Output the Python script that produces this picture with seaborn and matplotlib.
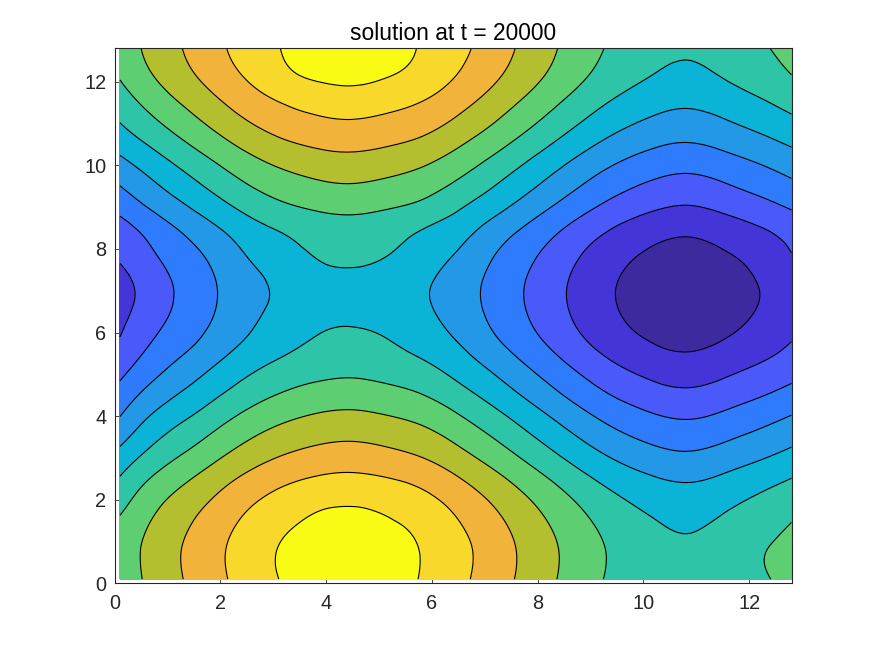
import numpy as np
import matplotlib
matplotlib.use("Agg")
import matplotlib.pyplot as plt
import matplotlib.tri as mtri
import seaborn as sns

x_grid = [0.1,0.735,1.37,2.005,2.64,3.275,3.91,4.545,5.18,5.815,6.45,7.085,7.72,8.355,8.99,9.625,10.26,10.895,11.53,12.165,12.8]
y_grid = [0.1,0.735,1.37,2.005,2.64,3.275,3.91,4.545,5.18,5.815,6.45,7.085,7.72,8.355,8.99,9.625,10.26,10.895,11.53,12.165,12.8]
solution = [
[7.38,8.30,9.09,9.85,10.53,11.16,11.60,11.73,11.50,10.92,10.30,9.58,8.80,8.01,7.26,6.65,6.23,6.08,6.36,6.85,7.20],
[7.43,8.35,9.14,9.90,10.58,11.21,11.65,11.78,11.55,10.95,10.35,9.63,8.85,8.06,7.31,6.70,6.28,6.13,6.41,6.90,7.28],
[7.22,8.14,8.93,9.69,10.37,10.90,11.30,11.38,11.15,10.75,10.14,9.42,8.64,7.85,7.10,6.49,6.07,5.92,6.20,6.60,7.05],
[6.60,7.67,8.46,9.22,9.90,10.40,10.75,10.83,10.65,10.27,9.67,8.95,8.17,7.38,6.63,6.02,5.60,5.45,5.73,6.13,6.58],
[5.90,6.93,7.72,8.48,9.16,9.64,9.93,10.01,9.83,9.51,8.93,8.21,7.43,6.64,5.89,5.28,4.86,4.71,4.99,5.39,5.83],
[5.00,6.07,6.86,7.62,8.30,8.78,9.07,9.15,8.97,8.65,8.07,7.35,6.57,5.78,5.03,4.42,4.00,3.85,4.13,4.53,4.98],
[4.10,5.24,6.03,6.79,7.47,7.95,8.24,8.32,8.14,7.82,7.24,6.52,5.74,4.95,4.20,3.59,3.17,3.02,3.30,3.70,4.15],
[3.35,4.39,5.18,5.94,6.62,7.10,7.39,7.47,7.29,6.97,6.39,5.67,4.89,4.10,3.35,2.74,2.32,2.17,2.45,2.85,3.30],
[2.62,3.62,4.41,5.17,5.85,6.33,6.62,6.70,6.52,6.20,5.62,4.90,4.12,3.33,2.58,1.97,1.55,1.40,1.68,2.08,2.55],
[2.05,3.02,3.75,4.51,5.20,5.72,6.11,6.19,6.01,5.58,5.00,4.24,3.46,2.67,1.92,1.31,0.89,0.74,1.02,1.42,1.98],
[1.72,2.62,3.39,4.15,4.86,5.38,5.75,5.83,5.65,5.22,4.62,3.88,3.10,2.31,1.56,0.95,0.53,0.38,0.66,1.06,1.57],
[1.60,2.52,3.32,4.08,4.76,5.30,5.66,5.74,5.56,5.14,4.53,3.81,3.03,2.24,1.49,0.88,0.46,0.31,0.59,0.99,1.46],
[2.05,2.85,3.56,4.32,5.08,5.60,6.02,6.10,5.92,5.45,4.85,4.05,3.27,2.48,1.73,1.12,0.70,0.55,0.83,1.23,1.88],
[2.47,3.30,4.09,4.85,5.58,6.05,6.42,6.50,6.32,5.88,5.38,4.58,3.80,3.01,2.26,1.65,1.23,1.08,1.36,1.76,2.30],
[3.30,4.15,4.94,5.70,6.38,6.86,7.15,7.23,7.05,6.73,6.15,5.43,4.65,3.86,3.11,2.50,2.08,1.93,2.21,2.61,3.08],
[4.15,4.99,5.78,6.54,7.22,7.70,7.99,8.07,7.89,7.57,6.99,6.27,5.49,4.70,3.95,3.34,2.92,2.77,3.05,3.45,3.92],
[5.03,5.83,6.62,7.38,8.06,8.54,8.83,8.91,8.73,8.41,7.83,7.11,6.33,5.54,4.79,4.18,3.76,3.61,3.89,4.29,4.76],
[5.87,6.68,7.47,8.23,8.91,9.39,9.68,9.76,9.58,9.26,8.68,7.96,7.18,6.39,5.64,5.03,4.61,4.46,4.74,5.14,5.61],
[6.50,7.42,8.21,8.97,9.65,10.13,10.42,10.50,10.32,10.00,9.42,8.70,7.92,7.13,6.38,5.77,5.35,5.20,5.48,5.88,6.35],
[7.10,8.02,8.81,9.57,10.25,10.85,11.20,11.30,11.05,10.65,10.02,9.30,8.52,7.73,6.98,6.37,5.95,5.80,6.08,6.48,7.00],
[7.40,8.32,9.11,9.87,10.55,11.13,11.55,11.68,11.45,10.90,10.32,9.60,8.82,8.03,7.28,6.67,6.25,6.10,6.38,6.85,7.25],
]
band_edges = [-1,1,2,3,4,5,6,7,8,9,10,11,13]
line_levels = [1,2,3,4,5,6,7,8,9,10,11]
band_colors = ["#3C2A9E","#4435D8","#4A5AFA","#2E7CFD","#2398E6","#0BB3D6",
               "#2DC4A8","#5DCF72","#B4BF2F","#F2B33A","#F8D82B","#FAFB14"]
x_ticks = [0,2,4,6,8,10,12]
y_ticks = [0,2,4,6,8,10,12]

sns.set_theme(style="white")
plt.rcParams['font.family'] = ['Liberation Sans', 'DejaVu Sans']
fig = plt.figure(figsize=(8.75,6.56), dpi=100)
W, H = 875, 656
ax = fig.add_axes([114.7/W, 1-583.3/H, (791.5-114.7)/W, (583.3-48.3)/H])
X, Y = np.meshgrid(x_grid, y_grid)
tri = mtri.Triangulation(X.ravel(), Y.ravel())
fine_tri, fine_z = mtri.UniformTriRefiner(tri).refine_field(np.array(solution).ravel(), subdiv=3)
ax.tricontourf(fine_tri, fine_z, levels=band_edges, colors=sns.color_palette(band_colors))
ax.tricontour(fine_tri, fine_z, levels=line_levels, colors="black", linewidths=0.8, linestyles="solid")
ax.set_xlim(0,12.8); ax.set_ylim(0,12.8)
ax.set_xticks(x_ticks); ax.set_yticks(y_ticks)
ax.tick_params(direction="in", length=5, width=0.6, top=True, right=True, bottom=True, left=True,
               labelsize=14.3, colors="#262626")
ax.tick_params(axis="x", pad=8)
ax.tick_params(axis="y", pad=6)
for s in ax.spines.values():
    s.set_linewidth(0.8); s.set_color("#262626"); s.set_visible(True)
ax.set_title("solution at t = 20000", fontsize=16.4, color="black", pad=6)
fig.savefig("out.png", dpi=100, facecolor="white")
